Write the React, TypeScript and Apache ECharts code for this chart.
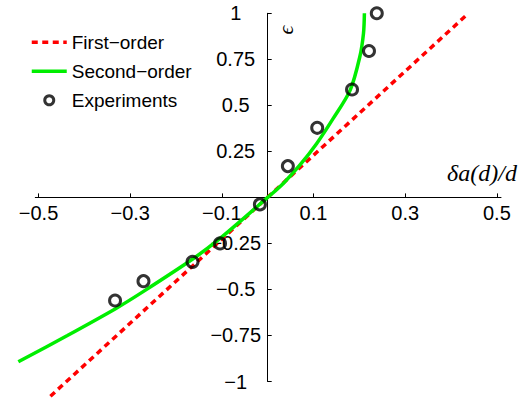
import React, { useEffect, useRef } from "react";
import * as echarts from "echarts";

// First-order (linear) prediction, endpoints
const firstOrderX = [-0.474, 0.438];
const firstOrderY = [-1.08, 1.0];

// Second-order prediction, points
const secondOrderX = [-0.544, -0.437, -0.331, -0.27, -0.162, -0.104, 0, 0.034, 0.0705, 0.107, 0.143, 0.18, 0.201, 0.209, 0.211];
const secondOrderY = [-0.893, -0.75, -0.603, -0.509, -0.332, -0.223, 0, 0.076, 0.176, 0.293, 0.429, 0.583, 0.764, 0.891, 1.0];

// Experiments
const expX = [-0.333, -0.271, -0.164, -0.104, -0.017, 0.044, 0.108, 0.184, 0.221, 0.238];
const expY = [-0.56, -0.455, -0.35, -0.25, -0.038, 0.17, 0.378, 0.586, 0.795, 1.0];

// Tick values
const xTicks = [-0.5, -0.3, -0.1, 0.1, 0.3, 0.5];
const yTicks = [-1, -0.75, -0.5, -0.25, 0.25, 0.5, 0.75, 1];

const seriesNames = ["First\u2212order", "Second\u2212order", "Experiments"];

const pairs = (xs: number[], ys: number[]) => xs.map((x, i) => [x, ys[i]]);
const fmt = (v: number) => String(+v.toFixed(2)).replace("-", "\u2212");

const SANS = "'Liberation Sans', Arial, Helvetica, sans-serif";
const SERIF = "'Liberation Serif', 'DejaVu Serif', 'Times New Roman', serif";

const W = 524;
const H = 402;
const GRID_LEFT = 35.3;
const GRID_RIGHT = 23;
const GRID_TOP = 13.3;
const GRID_BOTTOM = 20.5;
const X_MIN = -0.507;
const X_MAX = 0.509;
const DATA_X_MIN = -0.55;
const DATA_X_MAX = 0.55;

export default function App() {
  const ref = useRef<HTMLDivElement>(null);
  useEffect(() => {
    if (!ref.current) return;
    const chart = echarts.init(ref.current, undefined, { renderer: "svg" });
    const gw = W - GRID_LEFT - GRID_RIGHT;
    const gh = H - GRID_TOP - GRID_BOTTOM;
    const pxPerUnit = gw / (X_MAX - X_MIN);
    const zeroX = GRID_LEFT - X_MIN * pxPerUnit;
    // data grid shares the same pixel scale but spans a wider x range
    const dataLeft = zeroX + DATA_X_MIN * pxPerUnit;
    const dataRight = W - (zeroX + DATA_X_MAX * pxPerUnit);
    // distance of the zero lines from the grid's left / bottom edges
    const yAxisShift = zeroX - GRID_LEFT;
    const xAxisShift = gh / 2;
    chart.setOption({
      animation: false,
      backgroundColor: "#ffffff",
      grid: [
        {
          left: GRID_LEFT,
          right: GRID_RIGHT,
          top: GRID_TOP,
          bottom: GRID_BOTTOM,
          containLabel: false,
          outerBoundsMode: "none",
        },
        {
          left: dataLeft,
          right: dataRight,
          top: GRID_TOP,
          bottom: GRID_BOTTOM,
          containLabel: false,
          outerBoundsMode: "none",
        },
      ],
      legend: {
        orient: "vertical",
        left: 30,
        top: 32.3,
        padding: 0,
        itemWidth: 35,
        itemHeight: 9,
        itemGap: 9,
        textStyle: { fontFamily: SANS, fontSize: 19, color: "#000", lineHeight: 20 },
        data: [
          { name: seriesNames[0], itemStyle: { opacity: 0 }, lineStyle: { width: 3.5 } },
          { name: seriesNames[1], itemStyle: { opacity: 0 }, lineStyle: { width: 3.5 } },
          {
            name: seriesNames[2],
            itemStyle: { color: "rgba(255,255,255,0)", borderColor: "#000", borderWidth: 3 },
          },
        ],
      },
      xAxis: [
        {
          type: "value",
          gridIndex: 0,
          min: X_MIN,
          max: X_MAX,
          position: "bottom",
          offset: -xAxisShift,
          splitLine: { show: false },
          axisLine: { onZero: false, lineStyle: { color: "#000", width: 1 } },
          axisTick: { inside: true, length: 4, lineStyle: { color: "#000" }, customValues: xTicks },
          axisLabel: {
            customValues: xTicks,
            formatter: (v: number) => fmt(v),
            margin: 6,
            fontFamily: SANS,
            fontSize: 20,
            color: "#000",
          },
        },
        {
          type: "value",
          gridIndex: 1,
          min: DATA_X_MIN,
          max: DATA_X_MAX,
          show: false,
        },
      ],
      yAxis: [
        {
          type: "value",
          gridIndex: 0,
          min: -1,
          max: 1,
          position: "left",
          offset: -yAxisShift,
          splitLine: { show: false },
          axisLine: { onZero: false, lineStyle: { color: "#000", width: 1 } },
          axisTick: { inside: true, length: 4, lineStyle: { color: "#000" }, customValues: yTicks },
          axisLabel: {
            customValues: yTicks,
            formatter: (v: number) => fmt(v),
            align: "center",
            margin: 32,
            fontFamily: SANS,
            fontSize: 20,
            color: "#000",
          },
        },
        {
          type: "value",
          gridIndex: 1,
          min: -1,
          max: 1,
          show: false,
        },
      ],
      graphic: [
        {
          type: "text",
          x: 482,
          y: 173,
          style: {
            text: "\u03b4a(d)/d",
            font: `italic 24px ${SERIF}`,
            fill: "#000",
            textAlign: "center",
            textVerticalAlign: "middle",
          },
        },
        {
          type: "text",
          x: 285,
          y: 30,
          rotation: Math.PI / 2,
          style: {
            text: "\u03f5",
            font: `italic 22px ${SERIF}`,
            fill: "#000",
            textAlign: "center",
            textVerticalAlign: "middle",
          },
        },
      ],
      series: [
        {
          name: seriesNames[0],
          type: "line",
          xAxisIndex: 1,
          yAxisIndex: 1,
          data: pairs(firstOrderX, firstOrderY),
          symbol: "none",
          clip: false,
          lineStyle: { color: "#ff0000", width: 3.5, type: [6, 4.5], cap: "butt" },
          itemStyle: { color: "#ff0000" },
          z: 2,
        },
        {
          name: seriesNames[1],
          type: "line",
          xAxisIndex: 1,
          yAxisIndex: 1,
          data: pairs(secondOrderX, secondOrderY),
          symbol: "none",
          smooth: 0.3,
          clip: false,
          lineStyle: { color: "#00ee00", width: 3.5 },
          itemStyle: { color: "#00ee00" },
          z: 3,
        },
        {
          name: seriesNames[2],
          type: "scatter",
          xAxisIndex: 1,
          yAxisIndex: 1,
          data: pairs(expX, expY),
          symbol: "circle",
          symbolSize: 11,
          clip: false,
          itemStyle: { color: "rgba(255,255,255,0)", borderColor: "#000", borderWidth: 3 },
          z: 4,
        },
      ],
    });
    return () => chart.dispose();
  }, []);
  return (
    <div
      ref={ref}
      style={{ position: "fixed", left: 0, top: 0, width: W, height: H, background: "#fff" }}
    />
  );
}
